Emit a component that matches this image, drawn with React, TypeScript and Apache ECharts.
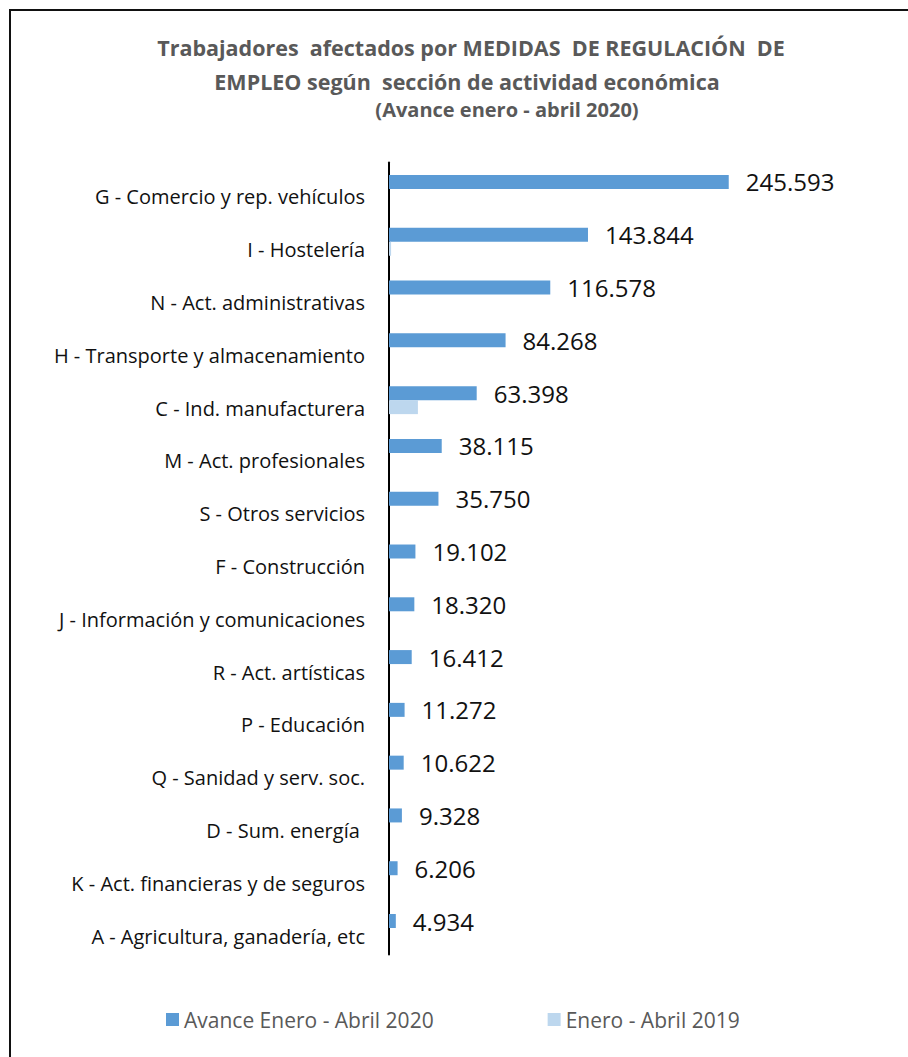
import React, { useEffect, useRef } from "react";
import * as echarts from "echarts";

const categories = [
  "G - Comercio y rep. vehículos",
  "I - Hostelería",
  "N - Act. administrativas",
  "H - Transporte y almacenamiento",
  "C - Ind. manufacturera",
  "M - Act. profesionales",
  "S - Otros servicios",
  "F - Construcción",
  "J - Información y comunicaciones",
  "R - Act. artísticas",
  "P - Educación",
  "Q - Sanidad y serv. soc.",
  "D - Sum. energía ",
  "K - Act. financieras y de seguros",
  "A - Agricultura, ganadería, etc",
];

const values2020 = [
  245593, 143844, 116578, 84268, 63398, 38115, 35750, 19102, 18320, 16412,
  11272, 10622, 9328, 6206, 4934,
];

const values2019 = [0, 1500, 0, 0, 20900, 0, 0, 0, 0, 0, 0, 0, 0, 0, 0];

const seriesNames = ["Avance Enero - Abril 2020", "Enero - Abril 2019"];

const titleLines = [
  "Trabajadores  afectados por MEDIDAS  DE REGULACIÓN  DE",
  "EMPLEO según  sección de actividad económica",
  "(Avance enero - abril 2020)",
];

const fmt = (v: number) => String(Math.round(v)).replace(/\B(?=(\d{3})+(?!\d))/g, ".");

const FONT = "Open Sans";

export default function App() {
  const ref = useRef<HTMLDivElement>(null);
  useEffect(() => {
    if (!ref.current) return;
    const chart = echarts.init(ref.current, undefined, { renderer: "svg" });
    chart.setOption({
      animation: false,
      backgroundColor: "#ffffff",
      textStyle: { fontFamily: FONT },
      graphic: [
        {
          type: "rect",
          shape: { x: 10, y: 10, width: 1000, height: 1200 },
          style: { fill: "none", stroke: "#111", lineWidth: 2 },
          silent: true,
        },
      ],
      title: [
        {
          text: titleLines[0],
          left: 466,
          top: 31,
          textAlign: "center",
          textStyle: { fontFamily: FONT, fontSize: 21.5, fontWeight: "bold", color: "#595959" },
        },
        {
          text: titleLines[1],
          left: 462,
          top: 65,
          textAlign: "center",
          textStyle: { fontFamily: FONT, fontSize: 21.5, fontWeight: "bold", color: "#595959" },
        },
        {
          text: titleLines[2],
          left: 502,
          top: 94,
          textAlign: "center",
          textStyle: { fontFamily: FONT, fontSize: 20, fontWeight: "bold", color: "#595959" },
        },
      ],
      legend: {
        data: seriesNames,
        left: 161,
        top: 1004,
        icon: "rect",
        itemWidth: 13,
        itemHeight: 13,
        itemGap: 114,
        textStyle: { fontFamily: FONT, fontSize: 21, color: "#595959" },
      },
      grid: { left: 389, right: 104, top: 162.6, bottom: 102.6, containLabel: false },
      xAxis: {
        type: "value",
        min: 0,
        max: 300000,
        show: false,
      },
      yAxis: {
        type: "category",
        data: categories,
        inverse: true,
        axisLine: { show: true, lineStyle: { color: "#000", width: 2 } },
        axisTick: { show: false },
        axisLabel: {
          margin: 24,
          fontFamily: FONT,
          fontSize: 20,
          color: "#111",
          verticalAlign: "top",
          lineHeight: 16,
        },
      },
      series: [
        {
          name: seriesNames[0],
          type: "bar",
          data: values2020,
          barGap: "0%",
          barCategoryGap: "47%",
          itemStyle: { color: "#5B9BD5" },
          label: {
            show: true,
            position: "right",
            distance: 17,
            fontFamily: FONT,
            fontSize: 24,
            color: "#111",
            formatter: (p: any) => fmt(p.value),
          },
        },
        {
          name: seriesNames[1],
          type: "bar",
          data: values2019,
          barGap: "0%",
          barCategoryGap: "47%",
          itemStyle: { color: "#BDD7EE" },
        },
      ],
    });
    return () => chart.dispose();
  }, []);
  return (
    <div
      ref={ref}
      style={{ position: "fixed", left: 0, top: 0, width: 908, height: 1057, background: "#fff" }}
    />
  );
}
